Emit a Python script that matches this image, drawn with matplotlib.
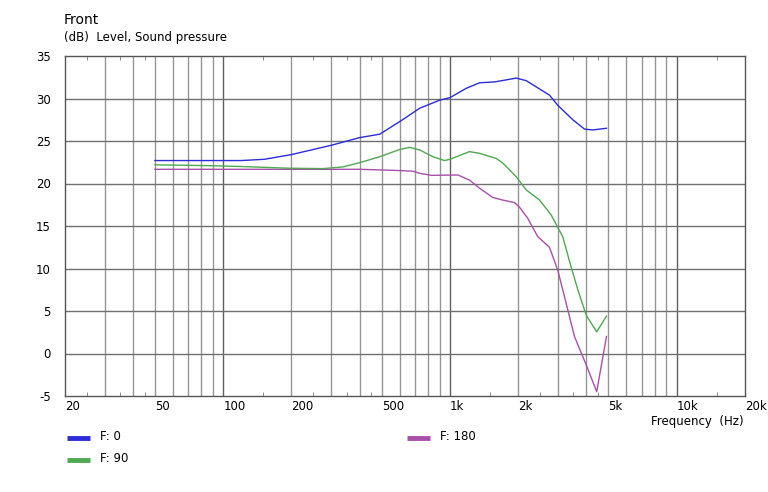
import matplotlib
matplotlib.use('Agg')
import matplotlib.pyplot as plt
from matplotlib.lines import Line2D

plt.rcParams['axes.unicode_minus'] = False

# F: 0
f0 = [50, 120, 152, 200, 300, 400, 490, 618, 735, 900, 1000, 1180, 1350, 1574,
      1960, 2168, 2746, 2988, 3481, 3920, 4265, 4900]
db0 = [22.7, 22.7, 22.85, 23.4, 24.5, 25.4, 25.8, 27.5, 28.85, 29.8, 30.1, 31.2,
       31.85, 31.95, 32.4, 32.1, 30.4, 29.2, 27.5, 26.4, 26.3, 26.5]

# F: 90
f90 = [50, 86, 120, 152, 193, 275, 337, 400, 490, 600, 664, 735, 841, 946, 1000,
       1220, 1350, 1600, 1710, 1960, 2168, 2483, 2794, 3142, 3420, 3664, 3990,
       4436, 4900]
db90 = [22.2, 22.1, 22.0, 21.9, 21.8, 21.75, 21.95, 22.45, 23.15, 24.0, 24.25,
        23.95, 23.15, 22.7, 22.85, 23.75, 23.55, 22.95, 22.4, 20.8, 19.25, 18.05,
        16.3, 13.75, 10.2, 7.5, 4.5, 2.55, 4.4]

# F: 180
f180 = [50, 400, 561, 687, 735, 828, 1084, 1220, 1350, 1546, 1710, 1928, 2028,
        2204, 2438, 2746, 2988, 3311, 3540, 3990, 4436, 4900]
db180 = [21.67, 21.67, 21.55, 21.45, 21.2, 20.96, 21.0, 20.4, 19.45, 18.35, 18.05,
         17.75, 17.2, 15.9, 13.75, 12.5, 9.8, 5.1, 2.0, -1.35, -4.5, 2.0]

xtick_vals = [20, 50, 100, 200, 500, 1000, 2000, 5000, 10000, 20000]
xtick_labels = ['20', '50', '100', '200', '500', '1k', '2k', '5k', '10k', '20k']
yticks = [-5, 0, 5, 10, 15, 20, 25, 30, 35]

c0, c90, c180 = '#2c2cd8', '#50a850', '#a850a8'

W, H = 768, 492
fig = plt.figure(figsize=(W / 100, H / 100), dpi=100)
fig.patch.set_facecolor('white')
ax = fig.add_axes([64.7 / W, (H - 396) / H, (745 - 64.7) / W, (396 - 56) / H])
ax.set_xscale('log')
ax.set_xlim(20, 20000)
ax.set_ylim(-5, 35)

# grid
minor_grid = [m * d for d in (10, 100, 1000) for m in range(2, 10) if 20 < m * d < 20000]
for v in minor_grid:
    ax.axvline(v, color='#959595', lw=1, zorder=1)
for v in (100, 1000, 10000):
    ax.axvline(v, color='#606060', lw=1, zorder=1)
for v in yticks[1:-1]:
    ax.axhline(v, color='#707070', lw=1, zorder=1)

ax.plot(f180, db180, color=c180, lw=1, zorder=3)
ax.plot(f90, db90, color=c90, lw=1, zorder=4)
ax.plot(f0, db0, color=c0, lw=1, zorder=5)

for s in ax.spines.values():
    s.set_color('#555555')
    s.set_linewidth(1)

ax.set_xticks(xtick_vals)
ax.set_xticklabels(xtick_labels, ha='left')
ax.set_xticks([25, 35, 45, 150, 250, 350, 450, 1500, 2500, 3500, 4500, 15000], minor=True)
ax.xaxis.set_minor_formatter(plt.NullFormatter())
ax.tick_params(axis='x', which='major', length=0, pad=3, labelsize=8.5)
ax.tick_params(axis='x', which='minor', length=3, direction='in', top=True,
               color='#777777')
ax.set_yticks(yticks)
ax.tick_params(axis='y', length=0, pad=10, labelsize=8.5)

fig.text(64 / W, 1 - 20 / H, 'Front', fontsize=10, va='center', ha='left')
fig.text(64 / W, 1 - 38 / H, '(dB)  Level, Sound pressure', fontsize=8.5,
         va='center', ha='left')
fig.text(744 / W, 1 - 421 / H, 'Frequency  (Hz)', fontsize=8.5, va='center', ha='right')

legend = [(67, 438, c0, 'F: 0'), (67, 460, c90, 'F: 90'), (407, 438, c180, 'F: 180')]
for x, y, c, t in legend:
    fig.add_artist(Line2D([x / W, (x + 23) / W], [1 - y / H, 1 - y / H],
                          color=c, lw=3.5, solid_capstyle='butt'))
    fig.text((x + 33) / W, 1 - (y - 1) / H, t, fontsize=8.5, va='center', ha='left')

fig.savefig('out.png', dpi=100)
